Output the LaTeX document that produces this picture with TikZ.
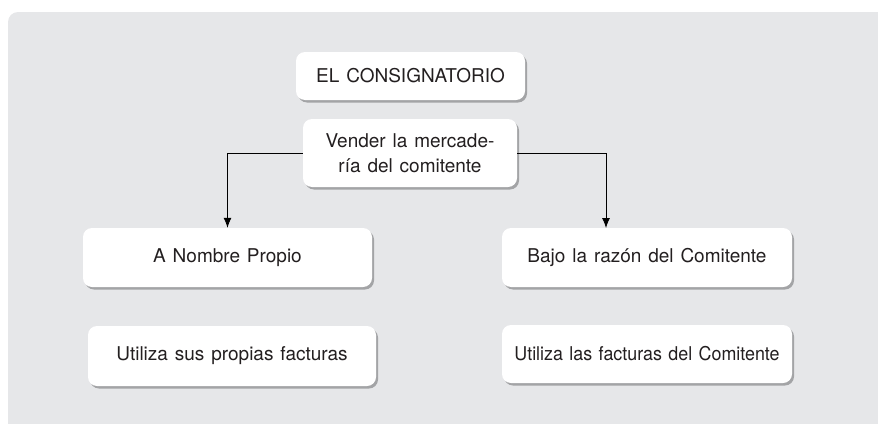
\documentclass[tikz,border=0pt]{standalone}
\usepackage{fontspec}
\setmainfont{TeX Gyre Heros}[WordSpace=1.3]
\usetikzlibrary{arrows.meta,shadows}
\definecolor{panel}{HTML}{E6E7E9}
\definecolor{txt}{HTML}{231F20}
\definecolor{shad}{HTML}{A3A4A6}
\tikzset{
  box/.style={draw=none, fill=white, rounded corners=9pt, inner sep=0pt,
    align=center, text=txt, font=\fontsize{19}{25}\selectfont,
    drop shadow={shadow xshift=2pt, shadow yshift=-2.5pt, fill=shad, opacity=1}},
  link/.style={draw=black, line width=0.8pt, -{Latex[length=10pt,width=8pt]}}
}
\begin{document}
\begin{tikzpicture}[x=1pt,y=-1pt]
\useasboundingbox (0,0) rectangle (878,423);
\fill[panel, rounded corners=10pt] (8,12) rectangle (900,445);
\node[box, minimum width=229pt, minimum height=48pt] (cons) at (410.5,76) {EL CONSIGNATORIO};
\node[box, minimum width=214pt, minimum height=68pt] (vend) at (410,153) {Vender la mercade-\\ría del comitente};
\node[box, minimum width=289pt, minimum height=59pt] (nomb) at (227.5,257.5) {A Nombre Propio};
\node[box, minimum width=290pt, minimum height=59pt] (bajo) at (647,257.5) {Bajo la razón del Comitente};
\node[box, minimum width=288pt, minimum height=60pt] (prop) at (232,356) {Utiliza sus propias facturas};
\node[box, minimum width=290pt, minimum height=58pt] (fact) at (647,354) {\scalebox{0.94}[1]{Utiliza las facturas del Comitente}};
\coordinate (bajoin) at (606,228);
\draw[link] (vend.west) -| (nomb.north);
\draw[link] (vend.east) -| (bajoin);
\end{tikzpicture}
\end{document}
